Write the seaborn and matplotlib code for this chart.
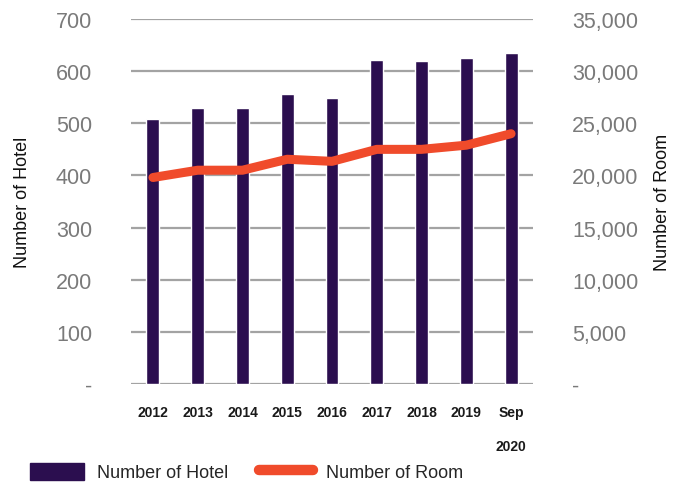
import matplotlib
matplotlib.use("Agg")
import matplotlib.pyplot as plt
from matplotlib.patches import Patch
from matplotlib.lines import Line2D
from matplotlib.ticker import FuncFormatter
import seaborn as sns
import pandas as pd

# Hotel supply by year
years = ["2012", "2013", "2014", "2015", "2016", "2017", "2018", "2019", "Sep\n2020"]
hotels = [509, 529, 529, 556, 549, 622, 620, 625, 634]
rooms = [19800, 20500, 20500, 21550, 21350, 22500, 22500, 22900, 24000]

hotel_ticks = [0, 100, 200, 300, 400, 500, 600, 700]
room_ticks = [0, 5000, 10000, 15000, 20000, 25000, 30000, 35000]

BAR_COLOR = "#2b0e4f"
LINE_COLOR = "#f04b2b"
GRID_COLOR = "#a3a3a3"
TICK_GRAY = "#7a7a7a"

sns.set_theme(style="white")
plt.rcParams["font.family"] = ["Liberation Sans", "DejaVu Sans"]

df = pd.DataFrame({"year": years, "hotels": hotels, "rooms": rooms})

fig = plt.figure(figsize=(6.73, 4.89), dpi=100)
ax = fig.add_axes([131 / 673, 1 - 385 / 489, (533 - 131) / 673, (385 - 20) / 489])

for t in hotel_ticks:
    ax.axhline(t, color=GRID_COLOR, lw=1.6, zorder=0)

sns.barplot(data=df, x="year", y="hotels", color=BAR_COLOR, width=0.29,
            saturation=1, ax=ax, zorder=2)
ax.set_xlim(-0.49, len(years) - 1 + 0.49)
ax.set_ylim(0, 700)
ax.set_yticks(hotel_ticks)
ax.yaxis.set_major_formatter(FuncFormatter(lambda v, p: "-" if v == 0 else f"{v:,.0f}"))

ax2 = ax.twinx()
sns.lineplot(data=df, x="year", y="rooms", sort=False, color=LINE_COLOR, lw=6.5,
             ax=ax2, solid_capstyle="round", solid_joinstyle="round")
ax2.set_ylim(0, 35000)
ax2.set_yticks(room_ticks)
ax2.yaxis.set_major_formatter(FuncFormatter(lambda v, p: "-" if v == 0 else f"{v:,.0f}"))
ax2.set_xlim(-0.49, len(years) - 1 + 0.49)

for a in (ax, ax2):
    for s in a.spines.values():
        s.set_visible(False)
    a.tick_params(length=0)
    a.grid(False)

ax.tick_params(axis="y", labelsize=15.5, labelcolor=TICK_GRAY, pad=28)
ax2.tick_params(axis="y", labelsize=15.5, labelcolor=TICK_GRAY, pad=28)
ax.tick_params(axis="x", pad=15)
ax.set_xticks(range(len(years)))
ax.set_xticklabels(years, fontsize=10, fontweight="bold", color="#1a1a1a",
                   linespacing=2.8)

ax.set_xlabel("")
ax.set_ylabel("Number of Hotel", fontsize=13, color="#111111", va="center")
ax.yaxis.set_label_coords(-0.271, 0.5)
ax2.set_ylabel("Number of Room", fontsize=13, color="#111111", va="center")
ax2.yaxis.set_label_coords(1.321, 0.5)

handles = [
    Patch(facecolor=BAR_COLOR, edgecolor=BAR_COLOR),
    Line2D([0], [0], color=LINE_COLOR, lw=7.5, solid_capstyle="round"),
]
fig.legend(handles, ["Number of Hotel", "Number of Room"], loc="center left",
           bbox_to_anchor=(30 / 673, 1 - 473 / 489), ncol=2, frameon=False,
           fontsize=13, handlelength=3.0, handleheight=1.1, handletextpad=0.7,
           columnspacing=1.7, borderpad=0, borderaxespad=0)

fig.savefig("out.png", dpi=100)
